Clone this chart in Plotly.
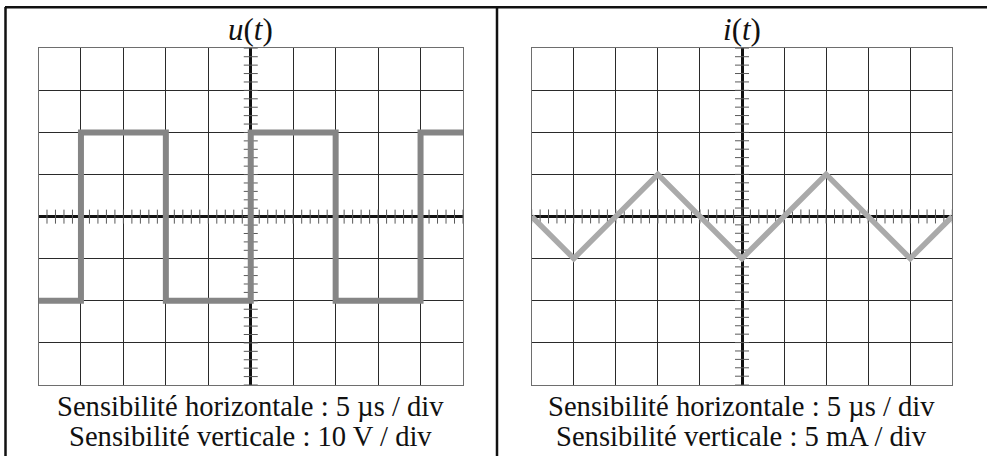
import numpy as np
import plotly.graph_objects as go

W, H = 987, 456

# Waveforms in oscilloscope divisions (x: 5 µs/div, y: V/div or mA/div)
u_t = [-5, -4, -4, -2, -2, 0, 0, 2, 2, 4, 4, 5]
u_v = [-2, -2, 2, 2, -2, -2, 2, 2, -2, -2, 2, 2]

i_t = [-5, -4, -2, 0, 2, 4, 5]
i_v = [0, -1, 1, -1, 1, -1, 0]

titles = ["<i>u</i>(<i>t</i>)", "<i>i</i>(<i>t</i>)"]
notes = [
    ["Sensibilité horizontale : 5 µs / div", "Sensibilité verticale : 10 V / div"],
    ["Sensibilité horizontale : 5 µs / div", "Sensibilité verticale : 5 mA / div"],
]

FONT = "Liberation Serif"


def px(x):
    return x / W


def py(y):
    return 1 - y / H


# screen boxes of the two graticules (pixels)
boxes = [(38.5, 463.0, 48.3, 385.0), (531.7, 952.3, 48.3, 384.6)]
centers = [250.7, 742.0]

fig = go.Figure()

minor_x = np.round(np.arange(-5, 5.001, 0.2), 3)
minor_y = np.round(np.arange(-4, 4.001, 0.2), 3)

TICK = "#5a5a5a"
for k in range(2):
    xa = "x" if k == 0 else "x2"
    ya = "y" if k == 0 else "y2"
    # small graduation marks along the central axes
    fig.add_trace(go.Scatter(
        x=minor_x, y=np.zeros_like(minor_x), xaxis=xa, yaxis=ya, mode="markers",
        marker=dict(symbol="line-ns-open", size=10, color=TICK, line=dict(color=TICK, width=1)),
        hoverinfo="skip", showlegend=False))
    fig.add_trace(go.Scatter(
        x=np.zeros_like(minor_y), y=minor_y, xaxis=xa, yaxis=ya, mode="markers",
        marker=dict(symbol="line-ew-open", size=10, color=TICK, line=dict(color=TICK, width=1)),
        hoverinfo="skip", showlegend=False))

fig.add_trace(go.Scatter(x=u_t, y=u_v, xaxis="x", yaxis="y", mode="lines",
                         line=dict(color="#858585", width=6), showlegend=False))
fig.add_trace(go.Scatter(x=i_t, y=i_v, xaxis="x2", yaxis="y2", mode="lines",
                         line=dict(color="#aaaaaa", width=5.5), showlegend=False))

axis_common = dict(showgrid=True, gridcolor="#2a2a2a", gridwidth=1.2, dtick=1,
                   zeroline=True, zerolinecolor="#111", zerolinewidth=2.6,
                   showline=True, linecolor="#6e6e6e", linewidth=1.4, mirror=True,
                   showticklabels=False, ticks="", fixedrange=True)

layout = dict(width=W, height=H, margin=dict(l=0, r=0, t=0, b=0),
              paper_bgcolor="white", plot_bgcolor="white", showlegend=False)

for k, (x0, x1, y0, y1) in enumerate(boxes):
    sx = "" if k == 0 else "2"
    layout["xaxis" + sx] = dict(axis_common, range=[-5, 5], domain=[px(x0), px(x1)],
                                anchor="y" + sx)
    layout["yaxis" + sx] = dict(axis_common, range=[-4, 4], domain=[py(y1), py(y0)],
                                anchor="x" + sx, tick0=0)

fig.update_layout(**layout)

# panel frame
frame = dict(type="line", xref="paper", yref="paper", line=dict(color="#111", width=2.5))
fig.add_shape(frame, x0=px(5), x1=1, y0=py(7.3), y1=py(7.3))
fig.add_shape(frame, x0=px(5.5), x1=px(5.5), y0=py(7), y1=0)
fig.add_shape(frame, x0=px(497), x1=px(497), y0=py(7), y1=0)

for k in range(2):
    fig.add_annotation(text=titles[k], x=px(centers[k]), y=py(29), xref="paper", yref="paper",
                       showarrow=False, xanchor="center", yanchor="middle",
                       font=dict(family=FONT, size=31, color="#111"))
    for j, line in enumerate(notes[k]):
        fig.add_annotation(text=line, x=px(centers[k] - 0.5), y=py(406 + 30 * j),
                           xref="paper", yref="paper", showarrow=False,
                           xanchor="center", yanchor="middle",
                           font=dict(family=FONT, size=28.6, color="#111"))

fig.write_html("out.html")
